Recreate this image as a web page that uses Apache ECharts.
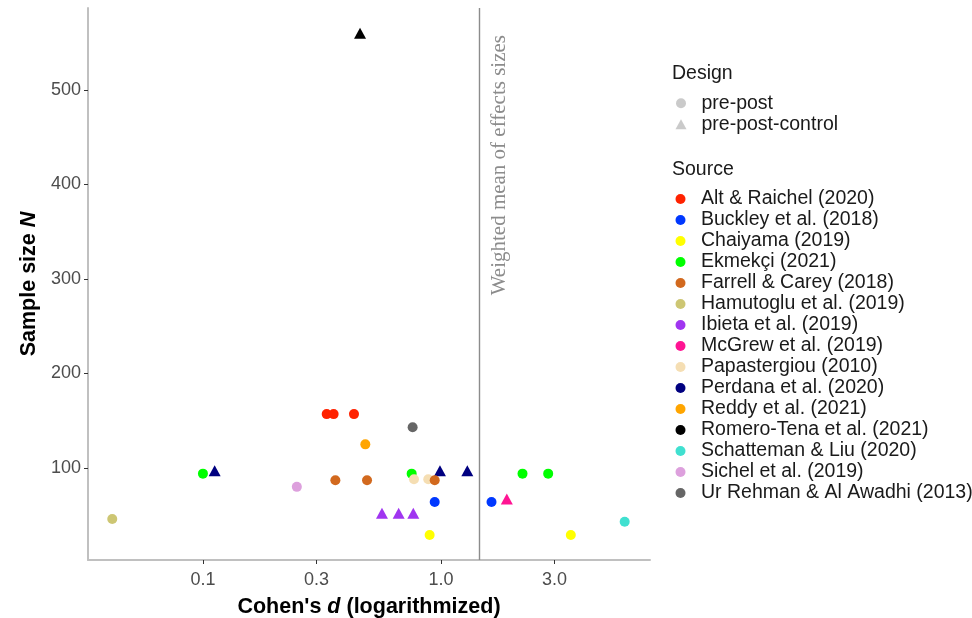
<!DOCTYPE html>
<html>
<head>
<meta charset="utf-8">
<script src="https://cdn.jsdelivr.net/npm/echarts@6/dist/echarts.min.js"></script>
<style>
html,body{margin:0;padding:0;background:#fff;}
#chart{width:972px;height:618px;}
</style>
</head>
<body>
<div id="chart"></div>
<script>
// ---------- data ----------
const sources = [
  "Alt & Raichel (2020)", "Buckley et al. (2018)", "Chaiyama (2019)", "Ekmekçi (2021)",
  "Farrell & Carey (2018)", "Hamutoglu et al. (2019)", "Ibieta et al. (2019)",
  "McGrew et al. (2019)", "Papastergiou (2010)", "Perdana et al. (2020)",
  "Reddy et al. (2021)", "Romero-Tena et al. (2021)", "Schatteman & Liu (2020)",
  "Sichel et al. (2019)", "Ur Rehman & Al Awadhi (2013)"
];
const designs = [
  "pre-post", "pre-post", "pre-post", "pre-post", "pre-post", "pre-post",
  "pre-post-control", "pre-post-control", "pre-post", "pre-post-control",
  "pre-post", "pre-post-control", "pre-post", "pre-post", "pre-post"
];
const designNames = ["pre-post", "pre-post-control"];
const cohenD = [
  [0.331, 0.354, 0.431],
  [0.941, 1.63],
  [0.896, 3.51],
  [0.100, 0.753, 2.20, 2.82],
  [0.360, 0.489, 0.941],
  [0.0416],
  [0.565, 0.664, 0.765],
  [1.89],
  [0.770, 0.884],
  [0.112, 0.99, 1.29],
  [0.481],
  [0.457],
  [5.91],
  [0.248],
  [0.760]
];
const sampleN = [
  [157, 157, 157],
  [64, 64],
  [29, 29],
  [94, 94, 94, 94],
  [87, 87, 87],
  [46],
  [50, 50, 50],
  [65],
  [88, 88],
  [95, 95, 95],
  [125],
  [558],
  [43],
  [80],
  [143]
];
const weightedMean = 1.44;
const xTickLabels = [0.1, 0.3, 1.0, 3.0];
const yTickLabels = [100, 200, 300, 400, 500];

// ---------- style ----------
const palette = [
  "#ff2200", "#0038ff", "#ffff00", "#00ff00", "#d2691e", "#cdc673", "#a035f0",
  "#ff1493", "#f5deb3", "#000080", "#ffa500", "#000000", "#40e0d0", "#dda0dd", "#666666"
];
const FONT = "Liberation Sans, Arial, Helvetica, sans-serif";
const xRange = [0.0329, 7.55];
const yRange = [2.6, 586.8];

const seriesList = sources.map((name, i) => {
  const tri = designs[i] === "pre-post-control";
  return {
    name: name,
    type: "scatter",
    symbol: tri ? "triangle" : "circle",
    symbolSize: tri ? [12, 11] : 10,
    symbolOffset: tri ? [0, -2] : [0, 0],
    itemStyle: { color: palette[i], opacity: 1 },
    z: name.indexOf("Farrell") === 0 ? 4 : 3,
    emphasis: { disabled: true },
    data: cohenD[i].map((d, j) => [Math.log10(d), sampleN[i][j]])
  };
});
designNames.forEach(n => {
  seriesList.push({ name: n, type: "scatter", itemStyle: { color: "#bdbdbd" }, data: [] });
});
seriesList.push({
  name: "mean", type: "scatter", data: [], silent: true,
  markLine: {
    silent: true, symbol: ["none", "none"], animation: false,
    lineStyle: { color: "#8c8c8c", width: 1.4, type: "solid" },
    label: {
      show: true, formatter: "Weighted mean of effects sizes",
      position: "insideEndBottom", distance: [27, 10],
      fontFamily: "Liberation Serif, Times New Roman, serif", fontSize: 21, color: "#8c8c8c"
    },
    emphasis: { disabled: true },
    data: [{ xAxis: Math.log10(weightedMean) }]
  }
});

const legendText = { fontSize: 19.5, lineHeight: 21, color: "#1a1a1a", fontFamily: FONT, padding: [0, 0, 0, 10] };

const option = {
  animation: false,
  backgroundColor: "#ffffff",
  textStyle: { fontFamily: FONT },
  grid: { left: 88, right: 322, top: 8, bottom: 58, containLabel: false, outerBoundsMode: "none" },
  title: [
    { text: "Design", left: 672, top: 64, padding: 0,
      textStyle: { fontSize: 19.5, fontWeight: "normal", color: "#1a1a1a", fontFamily: FONT } },
    { text: "Source", left: 672, top: 160, padding: 0,
      textStyle: { fontSize: 19.5, fontWeight: "normal", color: "#1a1a1a", fontFamily: FONT } }
  ],
  legend: [
    { orient: "vertical", left: 675.5, top: 92.8, padding: 0, itemWidth: 11, itemHeight: 10, itemGap: 0,
      selectedMode: false, textStyle: legendText,
      data: [{ name: "pre-post", icon: "circle" }, { name: "pre-post-control", icon: "triangle" }] },
    { orient: "vertical", left: 675.5, top: 188.5, padding: 0, itemWidth: 11, itemHeight: 10, itemGap: 0,
      selectedMode: false, textStyle: legendText,
      data: sources.map(n => ({ name: n, icon: "circle" })) }
  ],
  xAxis: {
    type: "value",
    min: Math.log10(xRange[0]), max: Math.log10(xRange[1]),
    name: "Cohen's {i|d} (logarithmized)",
    nameLocation: "middle", nameGap: 36,
    nameTextStyle: { fontSize: 21.5, fontWeight: "bold", color: "#000", fontFamily: FONT,
      rich: { i: { fontSize: 21.5, fontWeight: "bold", fontStyle: "italic", color: "#000", fontFamily: FONT } } },
    splitLine: { show: false },
    axisLine: { show: true, onZero: false, lineStyle: { color: "#c0c0c0", width: 2 } },
    axisTick: { show: true, length: 4, lineStyle: { color: "#333", width: 1 },
      customValues: xTickLabels.map(v => Math.log10(v)) },
    axisLabel: { show: true, fontSize: 18, color: "#4d4d4d", margin: 11, fontFamily: FONT,
      customValues: xTickLabels.map(v => Math.log10(v)),
      formatter: v => Math.pow(10, v).toFixed(1) }
  },
  yAxis: {
    type: "value",
    min: yRange[0], max: yRange[1],
    name: "Sample size {i|N}",
    nameLocation: "middle", nameGap: 47,
    nameTextStyle: { fontSize: 21.5, fontWeight: "bold", color: "#000", fontFamily: FONT,
      rich: { i: { fontSize: 21.5, fontWeight: "bold", fontStyle: "italic", color: "#000", fontFamily: FONT } } },
    splitLine: { show: false },
    axisLine: { show: true, onZero: false, lineStyle: { color: "#c0c0c0", width: 2 } },
    axisTick: { show: true, length: 4, lineStyle: { color: "#333", width: 1 }, customValues: yTickLabels },
    axisLabel: { show: true, fontSize: 18, color: "#4d4d4d", margin: 7, fontFamily: FONT,
      customValues: yTickLabels, formatter: v => String(Math.round(v)) }
  },
  series: seriesList
};

const chart = echarts.init(document.getElementById("chart"), null, { renderer: "canvas" });
chart.setOption(option);
</script>
</body>
</html>
